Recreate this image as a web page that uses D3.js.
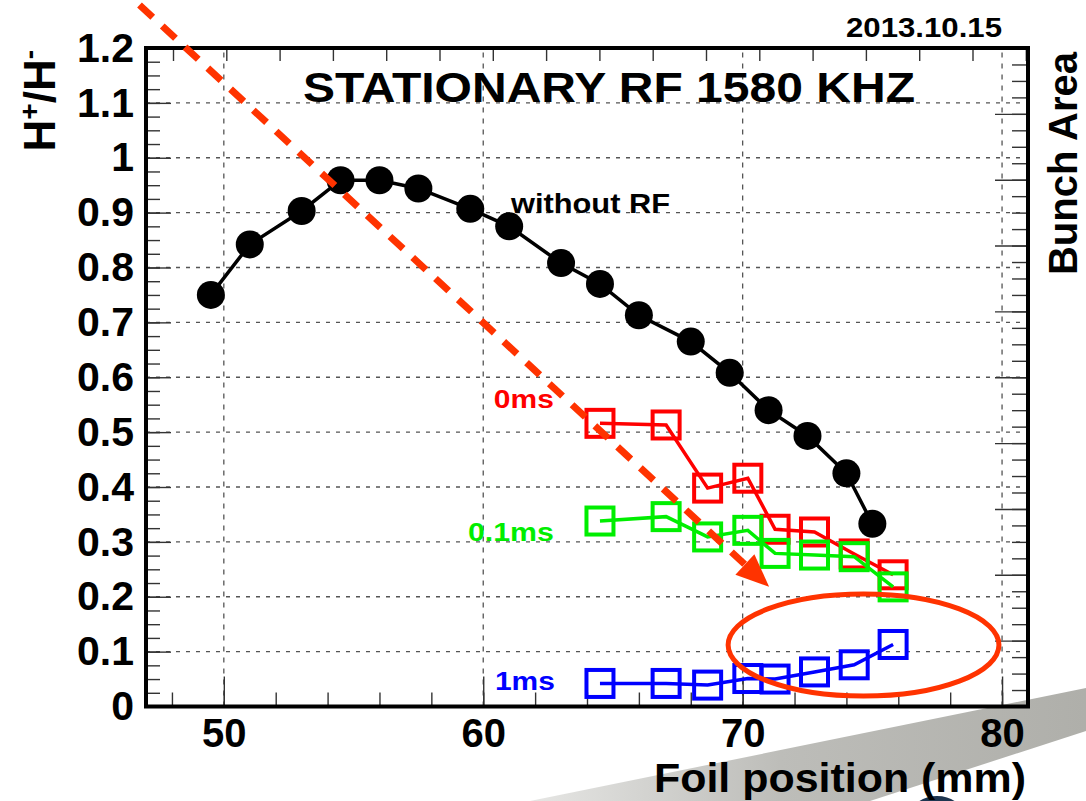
<!DOCTYPE html>
<html>
<head>
<meta charset="utf-8">
<script src="https://cdn.jsdelivr.net/npm/d3@7"></script>
<style>
  html, body { margin: 0; padding: 0; background: #fff; overflow: hidden; }
  svg { display: block; }
  text { font-family: "Liberation Sans", Arial, Helvetica, sans-serif; font-weight: bold; }
</style>
</head>
<body>
<div id="chart"></div>
<script>
// values (foil position in mm, H+/H- ratio)
const noRF_x = [49.5, 51.0, 53.0, 54.5, 56.0, 57.5, 59.5, 61.0, 63.0, 64.5, 66.0, 68.0, 69.5, 71.0, 72.5, 74.0, 75.0];
const noRF_y = [0.750, 0.842, 0.903, 0.959, 0.959, 0.944, 0.907, 0.875, 0.808, 0.770, 0.713, 0.665, 0.608, 0.540, 0.493, 0.425, 0.333];

const rf_x = [64.5, 67.05, 68.65, 70.2, 71.25, 72.77, 74.3, 75.8];
const rf0ms_y = [0.516, 0.513, 0.398, 0.416, 0.323, 0.318, 0.278, 0.240];
const rf01ms_y = [0.338, 0.346, 0.309, 0.321, 0.279, 0.276, 0.273, 0.218];
const rf1ms_y = [0.042, 0.042, 0.039, 0.051, 0.050, 0.063, 0.076, 0.113];

const xTicks = [50, 60, 70, 80];
const xMinor = d3.range(48, 81, 2);
const yTicks = d3.range(0, 13).map(d => d / 10);
const yTickLabels = ["0", "0.1", "0.2", "0.3", "0.4", "0.5", "0.6", "0.7", "0.8", "0.9", "1", "1.1", "1.2"];
const yMinor = d3.range(0, 49).map(d => d * 0.025);
const topMinor = d3.range(0, 17);               // secondary top axis, no labels
const rightTicks = d3.range(0, 11);              // bunch area axis, labels cut off
const rightMinor = d3.range(0, 41).map(d => d * 0.25);

const W = 1086, H = 801;
const svg = d3.select("#chart").append("svg").attr("width", W).attr("height", H);

const x = d3.scaleLinear().domain([47, 81]).range([146, 1028]);
const y = d3.scaleLinear().domain([0, 1.2]).range([706.5, 48]);
const xTop = d3.scaleLinear().domain([0, 16]).range([173, 1025.8]);
const yRight = d3.scaleLinear().domain([0, 10]).range([706.5, 48]);

// grey swoosh of the slide background
const defs = svg.append("defs");
const grad = defs.append("linearGradient").attr("id", "band").attr("x1", "0").attr("x2", "1").attr("y1", "0").attr("y2", "0");
grad.append("stop").attr("offset", "0").attr("stop-color", "#e6e6e4");
grad.append("stop").attr("offset", "0.45").attr("stop-color", "#bdbdb9");
grad.append("stop").attr("offset", "1").attr("stop-color", "#afafaa");
svg.append("polygon")
  .attr("points", "530,801 1086,688 1086,731 870,801")
  .attr("fill", "url(#band)");
svg.append("ellipse").attr("cx", 937).attr("cy", 815).attr("rx", 26).attr("ry", 19).attr("fill", "#1d3550");

// grid
svg.append("g").selectAll("line").data(yTicks.filter(d => d > 0 && d < 1.2)).join("line")
  .attr("x1", x(47)).attr("x2", x(81))
  .attr("y1", d => y(d)).attr("y2", d => y(d))
  .attr("stroke", "#555").attr("stroke-width", 1.3).attr("stroke-dasharray", "4,6");
svg.append("g").selectAll("line").data(xTicks).join("line")
  .attr("x1", d => x(d)).attr("x2", d => x(d))
  .attr("y1", y(0)).attr("y2", y(1.2))
  .attr("stroke", "#555").attr("stroke-width", 1.3).attr("stroke-dasharray", "5,6");

function styleAxis(g) {
  g.select(".domain").remove();
  g.selectAll(".tick line").attr("stroke", "#333").attr("stroke-width", 1.4);
}

// left axis
svg.append("g").attr("transform", `translate(${x(47)},0)`)
  .call(d3.axisLeft(y).tickValues(yMinor).tickSize(-14).tickFormat(""))
  .call(styleAxis);
const yAxis = svg.append("g").attr("transform", `translate(${x(47)},0)`)
  .call(d3.axisLeft(y).tickValues(yTicks).tickSize(-25).tickPadding(12)
    .tickFormat((d, i) => yTickLabels[i]))
  .call(styleAxis);
yAxis.selectAll("text").attr("font-size", 41).attr("fill", "#000")
  .attr("font-family", "Liberation Sans, Arial, sans-serif").attr("font-weight", "bold");

// bottom axis
svg.append("g").attr("transform", `translate(0,${y(0)})`)
  .call(d3.axisBottom(x).tickValues(xMinor).tickSize(-14).tickFormat(""))
  .call(styleAxis);
const xAxis = svg.append("g").attr("transform", `translate(0,${y(0)})`)
  .call(d3.axisBottom(x).tickValues(xTicks).tickSize(-30).tickPadding(12).tickFormat(d3.format("d")))
  .call(styleAxis);
xAxis.selectAll("text").attr("font-size", 40).attr("fill", "#000")
  .attr("font-family", "Liberation Sans, Arial, sans-serif").attr("font-weight", "bold");

// top axis (ticks only)
svg.append("g").attr("transform", `translate(0,${y(1.2)})`)
  .call(d3.axisTop(xTop).tickValues(topMinor).tickSize(-13).tickFormat(""))
  .call(styleAxis);

// right axis (ticks only)
svg.append("g").attr("transform", `translate(${x(81)},0)`)
  .call(d3.axisRight(yRight).tickValues(rightMinor).tickSize(-16).tickFormat(""))
  .call(styleAxis);
svg.append("g").attr("transform", `translate(${x(81)},0)`)
  .call(d3.axisRight(yRight).tickValues(rightTicks).tickSize(-33).tickFormat(""))
  .call(styleAxis);

// frame
svg.append("rect")
  .attr("x", x(47)).attr("y", y(1.2))
  .attr("width", x(81) - x(47)).attr("height", y(0) - y(1.2))
  .attr("fill", "none").attr("stroke", "#000").attr("stroke-width", 4);

// series
const line = d3.line().x(d => x(d[0])).y(d => y(d[1]));

function squareSeries(xs, ys, color) {
  const pts = xs.map((v, i) => [v, ys[i]]);
  svg.append("g").selectAll("rect").data(pts).join("rect")
    .attr("x", d => x(d[0]) - 13.5).attr("y", d => y(d[1]) - 13.5)
    .attr("width", 27).attr("height", 27)
    .attr("fill", "none").attr("stroke", color).attr("stroke-width", 4);
  svg.append("path").datum(pts).attr("d", line)
    .attr("fill", "none").attr("stroke", color).attr("stroke-width", 3.5);
}
squareSeries(rf_x, rf0ms_y, "#ff0000");
squareSeries(rf_x, rf01ms_y, "#00ee00");
squareSeries(rf_x, rf1ms_y, "#0000ff");

const noRF = noRF_x.map((v, i) => [v, noRF_y[i]]);
svg.append("path").datum(noRF).attr("d", line)
  .attr("fill", "none").attr("stroke", "#000").attr("stroke-width", 3.5);
svg.append("g").selectAll("circle").data(noRF).join("circle")
  .attr("cx", d => x(d[0])).attr("cy", d => y(d[1])).attr("r", 14).attr("fill", "#000");

// annotations: dashed arrow and ellipse
const arrowStart = [46.54, 1.2875], arrowTip = [71.02, 0.218];
const tx = x(arrowTip[0]), ty = y(arrowTip[1]);
const sx = x(arrowStart[0]), sy = y(arrowStart[1]);
const len = Math.hypot(tx - sx, ty - sy);
const ux = (tx - sx) / len, uy = (ty - sy) / len;
const bx = tx - ux * 33, by = ty - uy * 33;
svg.append("line").attr("x1", sx).attr("y1", sy).attr("x2", bx).attr("y2", by)
  .attr("stroke", "#ff3300").attr("stroke-width", 7)
  .attr("stroke-dasharray", "18,13").attr("stroke-dashoffset", 23.6);
svg.append("polygon")
  .attr("points", [[tx, ty], [bx - uy * 14, by + ux * 14], [bx + uy * 14, by - ux * 14]].map(p => p.join(",")).join(" "))
  .attr("fill", "#ff3300");

svg.append("ellipse")
  .attr("cx", x(74.66)).attr("cy", y(0.112))
  .attr("rx", x(74.66 + 5.22) - x(74.66)).attr("ry", y(0) - y(0.093))
  .attr("fill", "none").attr("stroke", "#ff3300").attr("stroke-width", 5);

// texts
function label(txt, px, py, size, color, width, anchor) {
  const t = svg.append("text").attr("x", px).attr("y", py)
    .attr("font-size", size).attr("fill", color).attr("text-anchor", anchor || "start").text(txt);
  if (width) t.attr("textLength", width).attr("lengthAdjust", "spacingAndGlyphs");
  return t;
}
label("without RF", x(61.07), y(0.899), 28, "#000", 159);
label("0ms", x(60.41), y(0.544), 26, "#ff0000", 60);
label("0.1ms", x(59.41), y(0.301), 26, "#00ee00", 86);
label("1ms", x(60.45), y(0.030), 26, "#0000ff", 60);

label("STATIONARY RF 1580 KHZ", 303, 101.5, 42, "#000", 612);
label("2013.10.15", 1002, 36.8, 28, "#000", 156, "end");
label("Foil position (mm)", 1026, 792, 40, "#000", 372, "end");

const yt = svg.append("text").attr("transform", "translate(55,50) rotate(-90)")
  .attr("text-anchor", "end").attr("font-size", 44).attr("fill", "#000");
yt.append("tspan").text("H");
yt.append("tspan").attr("dy", -16).attr("font-size", 28).text("+");
yt.append("tspan").attr("dy", 16).text("/H");
yt.append("tspan").attr("dy", -16).attr("font-size", 28).text("-");

svg.append("text").attr("transform", "translate(1077,52) rotate(-90)")
  .attr("text-anchor", "end").attr("font-size", 40).attr("fill", "#000").text("Bunch Area");
</script>
</body>
</html>
